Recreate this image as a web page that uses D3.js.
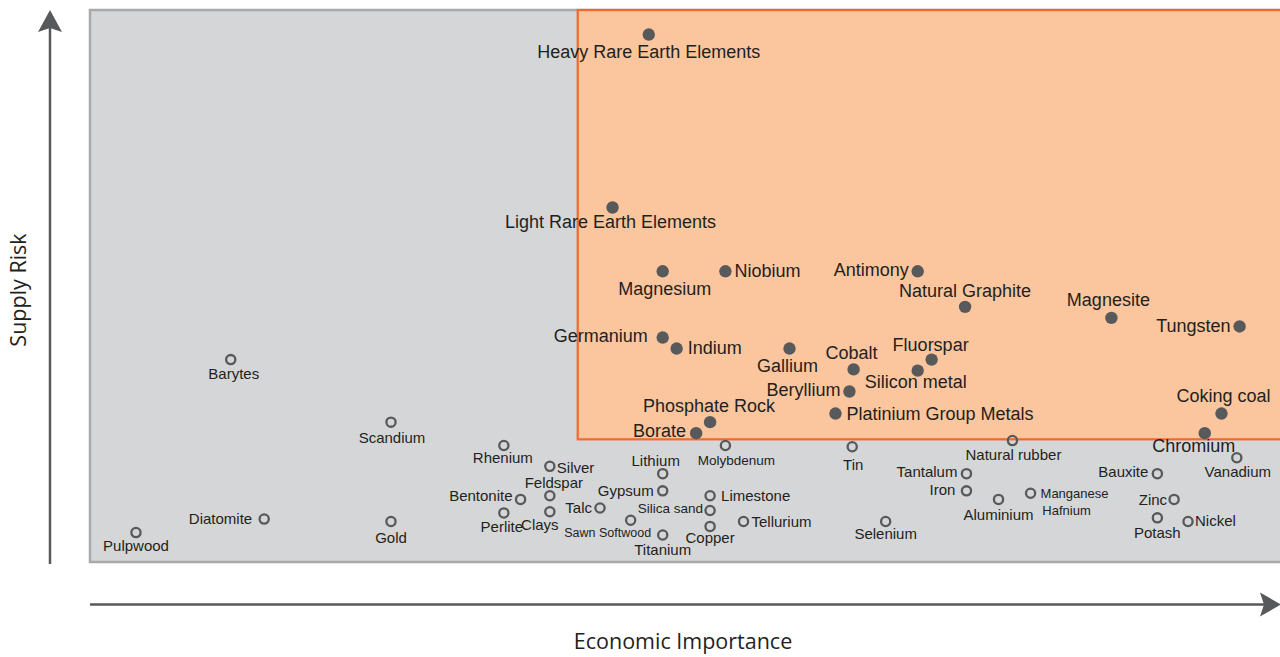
<!DOCTYPE html>
<html>
<head>
<meta charset="utf-8">
<script src="https://cdn.jsdelivr.net/npm/d3@7"></script>
<style>
  body { margin: 0; background: #fff; }
  svg { display: block; }
  .lbl { font-family: "Liberation Sans", Arial, sans-serif; fill: #231f20; }
  .axis-title { font-family: "Open Sans", sans-serif; fill: #231f20; }
</style>
</head>
<body>
<svg id="chart" width="1280" height="657"></svg>
<script>
// critical raw materials (filled dots)
const critNames = ['Heavy Rare Earth Elements', 'Light Rare Earth Elements', 'Magnesium', 'Niobium', 'Antimony',
  'Natural Graphite', 'Magnesite', 'Tungsten', 'Germanium', 'Indium', 'Gallium', 'Cobalt', 'Fluorspar',
  'Silicon metal', 'Beryllium', 'Platinium Group Metals', 'Phosphate Rock', 'Borate', 'Coking coal', 'Chromium'];
const critEI = [5.51, 5.25, 5.61, 6.06, 7.44, 7.78, 8.83, 9.75, 5.61, 5.71, 6.52, 6.98, 7.54, 7.44, 6.95, 6.85, 5.95, 5.85, 9.62, 9.50];
const critSR = [4.30, 2.89, 2.37, 2.37, 2.37, 2.08, 1.99, 1.92, 1.83, 1.74, 1.74, 1.57, 1.65, 1.56, 1.39, 1.21, 1.14, 1.05, 1.21, 1.05];

// other raw materials (hollow dots)
const otherNames = ['Pulpwood', 'Diatomite', 'Barytes', 'Scandium', 'Gold', 'Rhenium', 'Silver', 'Feldspar', 'Bentonite',
  'Perlite', 'Clays', 'Talc', 'Sawn Softwood', 'Lithium', 'Gypsum', 'Titanium', 'Molybdenum', 'Limestone', 'Silica sand',
  'Copper', 'Tellurium', 'Tin', 'Selenium', 'Natural rubber', 'Tantalum', 'Iron', 'Aluminium', 'Manganese', 'Hafnium',
  'Bauxite', 'Vanadium', 'Zinc', 'Potash', 'Nickel'];
const otherEI = [1.83, 2.75, 2.51, 3.66, 3.66, 4.47, 4.80, 4.80, 4.59, 4.47, 4.80, 5.16, 5.38, 5.61, 5.61, 5.61, 6.06, 5.95, 5.95,
  5.95, 6.19, 6.97, 7.21, 8.12, 7.79, 7.79, 8.02, 8.25, 8.25, 9.16, 9.73, 9.28, 9.16, 9.38];
const otherSR = [0.24, 0.35, 1.65, 1.14, 0.33, 0.95, 0.78, 0.54, 0.51, 0.40, 0.41, 0.44, 0.34, 0.72, 0.58, 0.22, 0.95, 0.54, 0.42,
  0.29, 0.33, 0.94, 0.33, 0.99, 0.72, 0.58, 0.51, 0.56, 0.56, 0.72, 0.85, 0.51, 0.36, 0.33];

// criticality thresholds and axis extents
const eiThreshold = 5;
const srThreshold = 1;
const eiExtent = [1.5, 10.04];
const srExtent = [0, 4.5];

// label placement: [anchor, dx, dy, fontSize]
const labelPos = {
  'Heavy Rare Earth Elements': ['middle', 0, 23], 'Light Rare Earth Elements': ['middle', -2, 21],
  'Magnesium': ['middle', 2, 24], 'Niobium': ['start', 9, 6], 'Antimony': ['end', -9, 5],
  'Natural Graphite': ['middle', 0, -10], 'Magnesite': ['middle', -3, -12], 'Tungsten': ['end', -9, 6],
  'Germanium': ['end', -15, 4], 'Indium': ['start', 11, 5], 'Gallium': ['middle', -2, 23],
  'Cobalt': ['middle', -2, -10], 'Fluorspar': ['middle', -1, -9], 'Silicon metal': ['middle', -2, 17],
  'Beryllium': ['end', -9, 5], 'Platinium Group Metals': ['start', 11, 6], 'Phosphate Rock': ['middle', -1, -10],
  'Borate': ['end', -10, 4], 'Coking coal': ['middle', 2, -12], 'Chromium': ['middle', -11, 19],
  'Pulpwood': ['middle', 0, 18], 'Diatomite': ['end', -12, 5], 'Barytes': ['middle', 3, 19],
  'Scandium': ['middle', 1, 21], 'Gold': ['middle', 0, 21], 'Rhenium': ['middle', -1, 18],
  'Silver': ['start', 7, 7], 'Feldspar': ['middle', 4, -8], 'Bentonite': ['end', -8, 2],
  'Perlite': ['middle', -2, 19], 'Clays': ['middle', -10, 18], 'Talc': ['end', -8, 5],
  'Sawn Softwood': ['middle', -23, 17, 12.5], 'Lithium': ['middle', -7, -8], 'Gypsum': ['end', -9, 5],
  'Titanium': ['middle', 0, 20], 'Molybdenum': ['middle', 11, 20, 13.5], 'Limestone': ['start', 11, 5],
  'Silica sand': ['end', -7, 3, 13.5], 'Copper': ['middle', 0, 17], 'Tellurium': ['start', 8, 5],
  'Tin': ['middle', 1, 23], 'Selenium': ['middle', 0, 17], 'Natural rubber': ['middle', 1, 19],
  'Tantalum': ['end', -9, 3], 'Iron': ['end', -11, 4], 'Aluminium': ['middle', 0, 21],
  'Manganese': ['start', 10, 5, 13], 'Hafnium': ['middle', 36, 22, 13], 'Bauxite': ['end', -9, 3],
  'Vanadium': ['middle', 1, 19], 'Zinc': ['end', -7, 6], 'Potash': ['middle', 0, 20], 'Nickel': ['start', 7, 4]
};

const svg = d3.select('#chart');
const ink = '#58595b';

const x = d3.scaleLinear().domain(eiExtent).range([90, 1280]);
const y = d3.scaleLinear().domain(srExtent).range([562, 10]);

const critical = critNames.map((n, i) => ({name: n, ei: critEI[i], sr: critSR[i]}));
const others = otherNames.map((n, i) => ({name: n, ei: otherEI[i], sr: otherSR[i]}));

// plot background
svg.append('rect')
  .attr('x', x(eiExtent[0])).attr('y', y(srExtent[1]))
  .attr('width', x(eiExtent[1]) - x(eiExtent[0]) + 20)
  .attr('height', y(srExtent[0]) - y(srExtent[1]))
  .attr('fill', '#d5d6d8').attr('stroke', '#a8a9ab').attr('stroke-width', 2.5);

// critical zone
svg.append('rect')
  .attr('x', x(eiThreshold)).attr('y', y(srExtent[1]))
  .attr('width', x(eiExtent[1]) - x(eiThreshold) + 20)
  .attr('height', y(srThreshold) - y(srExtent[1]))
  .attr('fill', '#fbc59e').attr('stroke', '#f26a2a').attr('stroke-width', 2.2);

// hollow dots (Hafnium shares the Manganese marker)
svg.append('g').selectAll('circle')
  .data(others.filter(d => d.name !== 'Hafnium'))
  .join('circle')
    .attr('cx', d => x(d.ei)).attr('cy', d => y(d.sr))
    .attr('r', 4.6)
    .attr('fill', 'none').attr('stroke', ink).attr('stroke-width', 2.3);

// filled dots
svg.append('g').selectAll('circle')
  .data(critical)
  .join('circle')
    .attr('cx', d => x(d.ei)).attr('cy', d => y(d.sr))
    .attr('r', 6.2)
    .attr('fill', ink);

function addLabels(data, size) {
  svg.append('g').selectAll('text')
    .data(data)
    .join('text')
      .attr('class', 'lbl')
      .attr('x', d => x(d.ei) + labelPos[d.name][1])
      .attr('y', d => y(d.sr) + labelPos[d.name][2])
      .attr('text-anchor', d => labelPos[d.name][0])
      .style('font-size', d => (labelPos[d.name][3] || size) + 'px')
      .text(d => d.name);
}
addLabels(others, 15);
addLabels(critical, 18);

// axis arrows
const arrows = svg.append('g').attr('fill', ink).attr('stroke', ink);
arrows.append('line').attr('x1', 50).attr('x2', 50).attr('y1', 564).attr('y2', 28).attr('stroke-width', 2.5);
arrows.append('path').attr('stroke', 'none').attr('d', 'M50,10 L62,32 L50,28 L38,32 Z');
arrows.append('line').attr('x1', 90).attr('x2', 1264).attr('y1', 604.5).attr('y2', 604.5).attr('stroke-width', 2.5);
arrows.append('path').attr('stroke', 'none').attr('d', 'M1281,604.5 L1260,592.5 L1264,604.5 L1260,616.5 Z');

svg.append('text')
  .attr('class', 'axis-title')
  .attr('x', 683).attr('y', 649)
  .attr('text-anchor', 'middle')
  .style('font-size', '21.5px')
  .text('Economic Importance');

svg.append('text')
  .attr('class', 'axis-title')
  .attr('transform', 'translate(26,290) rotate(-90)')
  .attr('text-anchor', 'middle')
  .style('font-size', '21.5px')
  .text('Supply Risk');
</script>
</body>
</html>
